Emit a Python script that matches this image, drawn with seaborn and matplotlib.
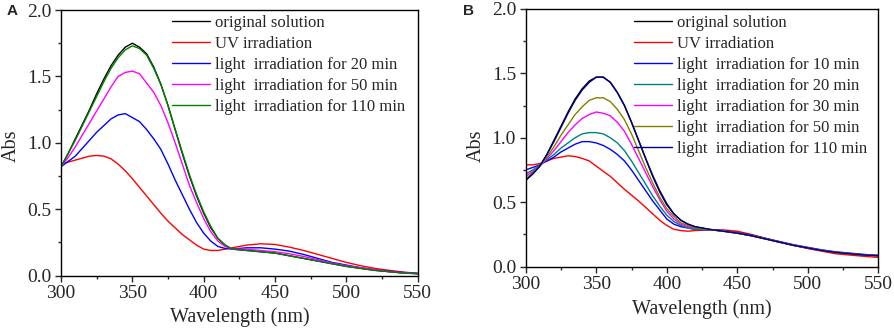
import pandas as pd
import matplotlib
matplotlib.use("Agg")
import matplotlib.pyplot as plt
from matplotlib.ticker import MultipleLocator
import seaborn as sns

# wavelength grid (nm): 5 nm steps over the band, 10 nm over the tail
wl = list(range(300, 421, 5)) + list(range(430, 551, 10))

# Panel A - absorbance
a_labels = ["original solution", "UV irradiation", "light  irradiation for 20 min",
            "light  irradiation for 50 min", "light  irradiation for 110 min"]
a_colors = ["#000000", "#FF0000", "#0000FF", "#FF00FF", "#008000"]
a_original = [0.82, 0.92, 1.03, 1.14, 1.25, 1.37, 1.48, 1.58, 1.66, 1.72, 1.75, 1.72, 1.67,
              1.57, 1.44, 1.28, 1.10, 0.92, 0.75, 0.60, 0.47, 0.36, 0.28, 0.23, 0.20,
              0.19, 0.18, 0.17, 0.15, 0.13, 0.11, 0.09, 0.07, 0.055, 0.04, 0.03, 0.02, 0.015]
a_uv = [0.84, 0.855, 0.87, 0.885, 0.90, 0.905, 0.90, 0.88, 0.84, 0.79, 0.73, 0.665, 0.60,
        0.535, 0.47, 0.41, 0.36, 0.31, 0.27, 0.23, 0.20, 0.19, 0.19, 0.20, 0.21,
        0.23, 0.24, 0.235, 0.215, 0.19, 0.16, 0.13, 0.10, 0.075, 0.055, 0.04, 0.027, 0.018]
a_20 = [0.82, 0.86, 0.90, 0.96, 1.02, 1.08, 1.13, 1.18, 1.21, 1.22, 1.19, 1.16, 1.10,
        1.03, 0.95, 0.84, 0.72, 0.61, 0.50, 0.40, 0.32, 0.26, 0.22, 0.205, 0.20,
        0.21, 0.21, 0.20, 0.185, 0.16, 0.13, 0.10, 0.08, 0.06, 0.045, 0.033, 0.024, 0.017]
a_50 = [0.82, 0.89, 0.97, 1.06, 1.15, 1.24, 1.33, 1.42, 1.50, 1.53, 1.54, 1.52, 1.45,
        1.38, 1.28, 1.15, 1.00, 0.84, 0.68, 0.55, 0.43, 0.33, 0.26, 0.22, 0.20,
        0.20, 0.19, 0.18, 0.165, 0.145, 0.12, 0.095, 0.075, 0.06, 0.045, 0.03, 0.022, 0.016]
a_110 = [0.82, 0.92, 1.02, 1.13, 1.24, 1.35, 1.46, 1.56, 1.64, 1.70, 1.73, 1.71, 1.66,
         1.56, 1.44, 1.28, 1.10, 0.93, 0.76, 0.61, 0.48, 0.37, 0.28, 0.23, 0.20,
         0.19, 0.18, 0.17, 0.15, 0.13, 0.11, 0.09, 0.07, 0.055, 0.04, 0.03, 0.02, 0.015]

# Panel B
b_labels = ["original solution", "UV irradiation", "light  irradiation for 10 min",
            "light  irradiation for 20 min", "light  irradiation for 30 min",
            "light  irradiation for 50 min", "light  irradiation for 110 min"]
b_colors = ["#000000", "#FF0000", "#0000FF", "#008080", "#FF00FF", "#808000", "#000080"]
b_original = [0.67, 0.72, 0.78, 0.87, 0.98, 1.09, 1.20, 1.30, 1.38, 1.44, 1.47, 1.47, 1.43,
              1.35, 1.25, 1.12, 0.98, 0.84, 0.70, 0.58, 0.48, 0.41, 0.36, 0.33, 0.31,
              0.29, 0.275, 0.26, 0.24, 0.215, 0.19, 0.165, 0.145, 0.125, 0.11, 0.10, 0.09, 0.085]
b_uv = [0.79, 0.79, 0.80, 0.82, 0.84, 0.85, 0.86, 0.855, 0.84, 0.82, 0.78, 0.74, 0.70,
        0.65, 0.60, 0.555, 0.51, 0.46, 0.41, 0.36, 0.32, 0.29, 0.28, 0.275, 0.28,
        0.285, 0.285, 0.275, 0.25, 0.22, 0.19, 0.165, 0.14, 0.12, 0.10, 0.09, 0.08, 0.072]
b_10 = [0.75, 0.77, 0.79, 0.82, 0.85, 0.89, 0.92, 0.95, 0.97, 0.97, 0.96, 0.94, 0.91,
        0.87, 0.82, 0.75, 0.67, 0.59, 0.51, 0.44, 0.37, 0.33, 0.31, 0.30, 0.29,
        0.285, 0.28, 0.265, 0.245, 0.22, 0.195, 0.17, 0.15, 0.13, 0.115, 0.105, 0.095, 0.088]
b_20 = [0.72, 0.75, 0.79, 0.83, 0.87, 0.92, 0.96, 1.00, 1.03, 1.04, 1.04, 1.03, 1.00,
        0.96, 0.90, 0.82, 0.73, 0.64, 0.55, 0.47, 0.40, 0.35, 0.32, 0.30, 0.29,
        0.285, 0.278, 0.262, 0.242, 0.218, 0.192, 0.167, 0.146, 0.127, 0.112, 0.10, 0.092, 0.086]
b_30 = [0.70, 0.74, 0.78, 0.84, 0.90, 0.97, 1.04, 1.10, 1.15, 1.18, 1.20, 1.19, 1.17,
        1.12, 1.05, 0.95, 0.84, 0.73, 0.62, 0.52, 0.43, 0.37, 0.33, 0.31, 0.30,
        0.287, 0.276, 0.26, 0.24, 0.216, 0.19, 0.166, 0.145, 0.126, 0.111, 0.10, 0.091, 0.085]
b_50 = [0.68, 0.73, 0.78, 0.85, 0.93, 1.02, 1.10, 1.18, 1.24, 1.29, 1.31, 1.31, 1.28,
        1.22, 1.14, 1.03, 0.90, 0.77, 0.65, 0.54, 0.45, 0.39, 0.34, 0.32, 0.30,
        0.288, 0.275, 0.26, 0.24, 0.215, 0.19, 0.165, 0.145, 0.125, 0.11, 0.10, 0.09, 0.085]
b_110 = [0.67, 0.72, 0.78, 0.87, 0.97, 1.08, 1.19, 1.29, 1.37, 1.43, 1.47, 1.47, 1.43,
         1.35, 1.25, 1.12, 0.98, 0.84, 0.71, 0.59, 0.49, 0.41, 0.36, 0.33, 0.31,
         0.29, 0.275, 0.26, 0.24, 0.215, 0.19, 0.165, 0.145, 0.125, 0.11, 0.10, 0.09, 0.085]


def to_long(labels, series):
    rows = []
    for lab, vals in zip(labels, series):
        for x, y in zip(wl, vals):
            rows.append({"Wavelength": x, "Abs": y, "sample": lab})
    return pd.DataFrame(rows)


df_a = to_long(a_labels, [a_original, a_uv, a_20, a_50, a_110])
df_b = to_long(b_labels, [b_original, b_uv, b_10, b_20, b_30, b_50, b_110])

sns.set_style("ticks")
plt.rcParams["font.family"] = ["Liberation Serif", "DejaVu Serif"]
plt.rcParams["axes.linewidth"] = 1.0

fig = plt.figure(figsize=(8.95, 3.28), dpi=100)
ax_a = fig.add_axes([0.0682, 0.1595, 0.3985, 0.81])
ax_b = fig.add_axes([0.5874, 0.187, 0.394, 0.786])


def style_panel(ax, df, labels, colors, legend_x, legend_y, ylab_y, xlab_y):
    sns.lineplot(data=df, x="Wavelength", y="Abs", hue="sample", hue_order=labels,
                 palette=colors, lw=1.0, ax=ax)
    ax.set_xlim(300, 550)
    ax.set_ylim(0, 2.0)
    ax.xaxis.set_major_locator(MultipleLocator(50))
    ax.xaxis.set_minor_locator(MultipleLocator(25))
    ax.yaxis.set_major_locator(MultipleLocator(0.5))
    ax.yaxis.set_minor_locator(MultipleLocator(0.25))
    ax.tick_params(which="major", direction="out", length=4, width=1, labelsize=14, pad=3)
    ax.tick_params(which="minor", direction="out", length=2, width=1)
    for s in ax.spines.values():
        s.set_color("black")
    ax.set_xlabel("Wavelength (nm)", fontsize=14.5)
    ax.set_ylabel("Abs", fontsize=14.5)
    ax.xaxis.set_label_coords(0.5, xlab_y)
    ax.yaxis.set_label_coords(-0.113, ylab_y)
    handles, labs = ax.get_legend_handles_labels()
    ax.legend(handles, labs, loc="upper left", bbox_to_anchor=(legend_x, legend_y),
              frameon=False, fontsize=12, borderpad=0, borderaxespad=0,
              labelspacing=0.3, handlelength=2.3, handletextpad=0.3)


style_panel(ax_a, df_a, a_labels, a_colors, 0.311, 0.98, 0.49, -0.118)
style_panel(ax_b, df_b, b_labels, b_colors, 0.307, 0.975, 0.47, -0.125)

fig.text(0.007, 0.966, "A", family="Liberation Sans", weight="bold", fontsize=11, va="center")
fig.text(0.517, 0.967, "B", family="Liberation Sans", weight="bold", fontsize=11, va="center")

fig.savefig("out.png", dpi=100)
